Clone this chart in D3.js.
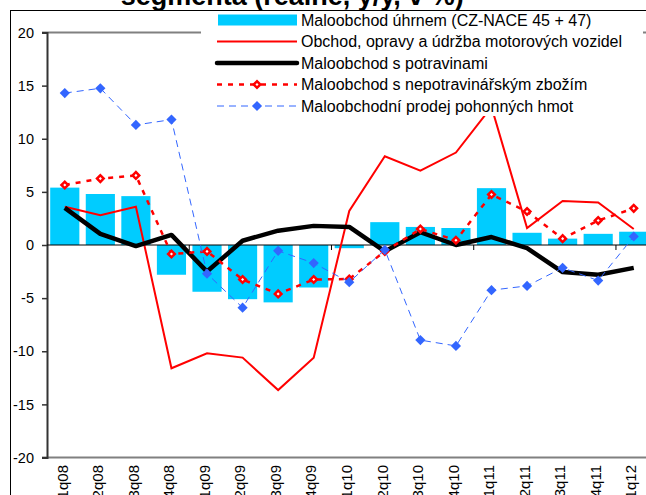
<!DOCTYPE html>
<html>
<head>
<meta charset="utf-8">
<script src="https://cdn.jsdelivr.net/npm/d3@7/dist/d3.min.js"></script>
<style>
  html, body { margin: 0; padding: 0; background: #fff; }
  svg { display: block; font-family: "Liberation Sans", Arial, sans-serif; }
</style>
</head>
<body>
<svg id="chart" width="646" height="495"></svg>
<script>
// ---- data ----
const categories = ["1q08","2q08","3q08","4q08","1q09","2q09","3q09","4q09","1q10","2q10","3q10","4q10","1q11","2q11","3q11","4q11","1q12"];
const maloobchodUhrnem = [5.4, 4.8, 4.6, -2.8, -4.4, -5.1, -5.4, -4.0, -0.3, 2.15, 1.7, 1.6, 5.35, 1.15, 0.6, 1.05, 1.25];
const obchodMotorova   = [3.6, 2.8, 3.6, -11.6, -10.2, -10.6, -13.65, -10.6, 3.2, 8.35, 7.0, 8.7, 13.0, 1.6, 4.15, 4.0, 1.5];
const potraviny        = [3.5, 1.05, -0.1, 0.95, -2.5, 0.4, 1.35, 1.8, 1.7, -0.6, 1.2, 0.0, 0.75, -0.3, -2.55, -2.8, -2.15];
const nepotravinarske  = [5.65, 6.25, 6.55, -0.85, -0.6, -3.25, -4.6, -3.25, -3.2, -0.6, 1.5, 0.45, 4.75, 3.15, 0.6, 2.3, 3.45];
const pohonneHmoty     = [14.3, 14.75, 11.3, 11.8, -2.7, -5.9, -0.55, -1.7, -3.5, -0.45, -8.95, -9.5, -4.25, -3.85, -2.15, -3.35, 0.8];
const yTicks = [-20, -15, -10, -5, 0, 5, 10, 15, 20];
const legendLabels = [
  "Maloobchod úhrnem (CZ-NACE 45 + 47)",
  "Obchod, opravy a údržba motorových vozidel",
  "Maloobchod s potravinami",
  "Maloobchod s nepotravinářským zbožím",
  "Maloobchodní prodej pohonných hmot"
];
const titleBold = "segmenta";
const titleRest = " (reálné, y/y, v %)";

// ---- layout ----
const svg = d3.select("#chart");
const plotLeft = 47, plotTop = 32.5, plotBottom = 457.5;
const step = 35.56;
const plotRight = plotLeft + step * categories.length;

const x = d3.scaleBand().domain(categories).range([plotLeft, plotRight])
  .paddingInner(0.18).paddingOuter(0.09);
const y = d3.scaleLinear().domain([-20, 20]).range([plotBottom, plotTop]);
const cx = c => x(c) + x.bandwidth() / 2;

const colBar = "#00CCFF", colRed = "#FF0000", colBlue = "#3366FF";

// title (clipped at top)
const title = svg.append("text").attr("x", 120.7).attr("y", 4.5)
  .attr("font-size", 27).attr("font-weight", "bold").attr("fill", "#000");
title.append("tspan").text(titleBold);
title.append("tspan").text(titleRest);

// outer chart border
svg.append("rect").attr("x", 10.5).attr("y", 10.5).attr("width", 700).attr("height", 600)
  .attr("fill", "none").attr("stroke", "#000").attr("stroke-width", 1);

// plot area border (gray)
svg.append("line").attr("x1", 42).attr("x2", 700).attr("y1", y(20)).attr("y2", y(20))
  .attr("stroke", "#808080").attr("stroke-width", 2);
svg.append("line").attr("x1", 42).attr("x2", 700).attr("y1", y(-20)).attr("y2", y(-20))
  .attr("stroke", "#808080").attr("stroke-width", 2);

// y axis
const yAxis = d3.axisLeft(y).tickValues(yTicks).tickSize(5).tickPadding(8).tickFormat(d3.format("d"));
const gy = svg.append("g").attr("transform", `translate(${plotLeft},0)`).call(yAxis);
gy.select(".domain").attr("stroke", "#333").attr("stroke-width", 2);
gy.selectAll(".tick line").attr("stroke", "#333").attr("stroke-width", 1.5);
gy.selectAll(".tick text").attr("font-size", 14.5).attr("fill", "#000")
  .attr("font-family", "'Liberation Sans', Arial, sans-serif")
  .text(d => d < 0 ? "-" + Math.abs(d) : d);

// bars
svg.append("g").selectAll("rect").data(categories).join("rect")
  .attr("x", c => x(c))
  .attr("width", x.bandwidth())
  .attr("y", (c, i) => y(Math.max(0, maloobchodUhrnem[i])))
  .attr("height", (c, i) => Math.abs(y(maloobchodUhrnem[i]) - y(0)))
  .attr("fill", colBar);

// zero line with ticks every 4 categories
svg.append("line").attr("x1", plotLeft).attr("x2", 700).attr("y1", y(0)).attr("y2", y(0))
  .attr("stroke", "#000").attr("stroke-width", 1);
const tickCats = categories.filter((c, i) => i > 0 && i % 4 === 0);
svg.append("g").selectAll("line").data(tickCats).join("line")
  .attr("x1", c => x(c) - x.step() * 0.09).attr("x2", c => x(c) - x.step() * 0.09)
  .attr("y1", y(0)).attr("y2", y(0) + 5).attr("stroke", "#000").attr("stroke-width", 1);

// x labels
svg.append("g").selectAll("text").data(categories).join("text")
  .attr("transform", c => `translate(${cx(c) - 2.5},${plotBottom + 7.5}) rotate(-90)`)
  .attr("text-anchor", "end").attr("dy", "0.35em")
  .attr("font-size", 15).attr("fill", "#000").text(c => c);

const line = d3.line().x((d, i) => cx(categories[i])).y(d => y(d));

// red solid
svg.append("path").datum(obchodMotorova).attr("d", line)
  .attr("fill", "none").attr("stroke", colRed).attr("stroke-width", 2).attr("stroke-linejoin", "miter");
// black thick
svg.append("path").datum(potraviny).attr("d", line)
  .attr("fill", "none").attr("stroke", "#000").attr("stroke-width", 4.5).attr("stroke-linejoin", "round");
// red dotted
svg.append("path").datum(nepotravinarske).attr("d", line)
  .attr("fill", "none").attr("stroke", colRed).attr("stroke-width", 2.5).attr("stroke-dasharray", "5,6");
const diamondOpen = d3.symbol().type(d3.symbolSquare).size(22);
const diamondFilled = d3.symbol().type(d3.symbolSquare).size(52);
svg.append("g").selectAll("path").data(nepotravinarske).join("path")
  .attr("d", diamondOpen)
  .attr("transform", (d, i) => `translate(${cx(categories[i])},${y(d)}) rotate(45)`)
  .attr("fill", "#fff").attr("stroke", colRed).attr("stroke-width", 2.5);
// blue dashed
svg.append("path").datum(pohonneHmoty).attr("d", line)
  .attr("fill", "none").attr("stroke", colBlue).attr("stroke-width", 1).attr("stroke-dasharray", "7,5");
svg.append("g").selectAll("path").data(pohonneHmoty).join("path")
  .attr("d", diamondFilled)
  .attr("transform", (d, i) => `translate(${cx(categories[i])},${y(d)}) rotate(45)`)
  .attr("fill", colBlue);

// legend (white box covering plot)
const lg = svg.append("g");
lg.append("rect").attr("x", 201).attr("y", 11).attr("width", 442).attr("height", 105).attr("fill", "#fff");
const rowY = [20, 41.5, 63, 84.5, 106];
const sx1 = 217, sx2 = 297, smid = (sx1 + sx2) / 2;
lg.append("rect").attr("x", 218).attr("y", rowY[0] - 5.5).attr("width", 79).attr("height", 11).attr("fill", colBar);
lg.append("line").attr("x1", sx1).attr("x2", sx2).attr("y1", rowY[1]).attr("y2", rowY[1])
  .attr("stroke", colRed).attr("stroke-width", 2);
lg.append("line").attr("x1", sx1).attr("x2", sx2).attr("y1", rowY[2]).attr("y2", rowY[2])
  .attr("stroke", "#000").attr("stroke-width", 4.5).attr("stroke-linecap", "round");
lg.append("line").attr("x1", sx1).attr("x2", sx2).attr("y1", rowY[3]).attr("y2", rowY[3])
  .attr("stroke", colRed).attr("stroke-width", 2.5).attr("stroke-dasharray", "5,6");
lg.append("path").attr("d", diamondOpen).attr("transform", `translate(${smid},${rowY[3]}) rotate(45)`)
  .attr("fill", "#fff").attr("stroke", colRed).attr("stroke-width", 2.5);
lg.append("line").attr("x1", sx1).attr("x2", sx2).attr("y1", rowY[4]).attr("y2", rowY[4])
  .attr("stroke", colBlue).attr("stroke-width", 1).attr("stroke-dasharray", "7,5");
lg.append("path").attr("d", diamondFilled).attr("transform", `translate(${smid},${rowY[4]}) rotate(45)`)
  .attr("fill", colBlue);
lg.selectAll("text.lt").data(legendLabels).join("text").attr("class", "lt")
  .attr("x", 301).attr("y", (d, i) => rowY[i]).attr("dy", "0.35em")
  .attr("font-size", 16).attr("fill", "#000").text(d => d);
</script>
</body>
</html>
